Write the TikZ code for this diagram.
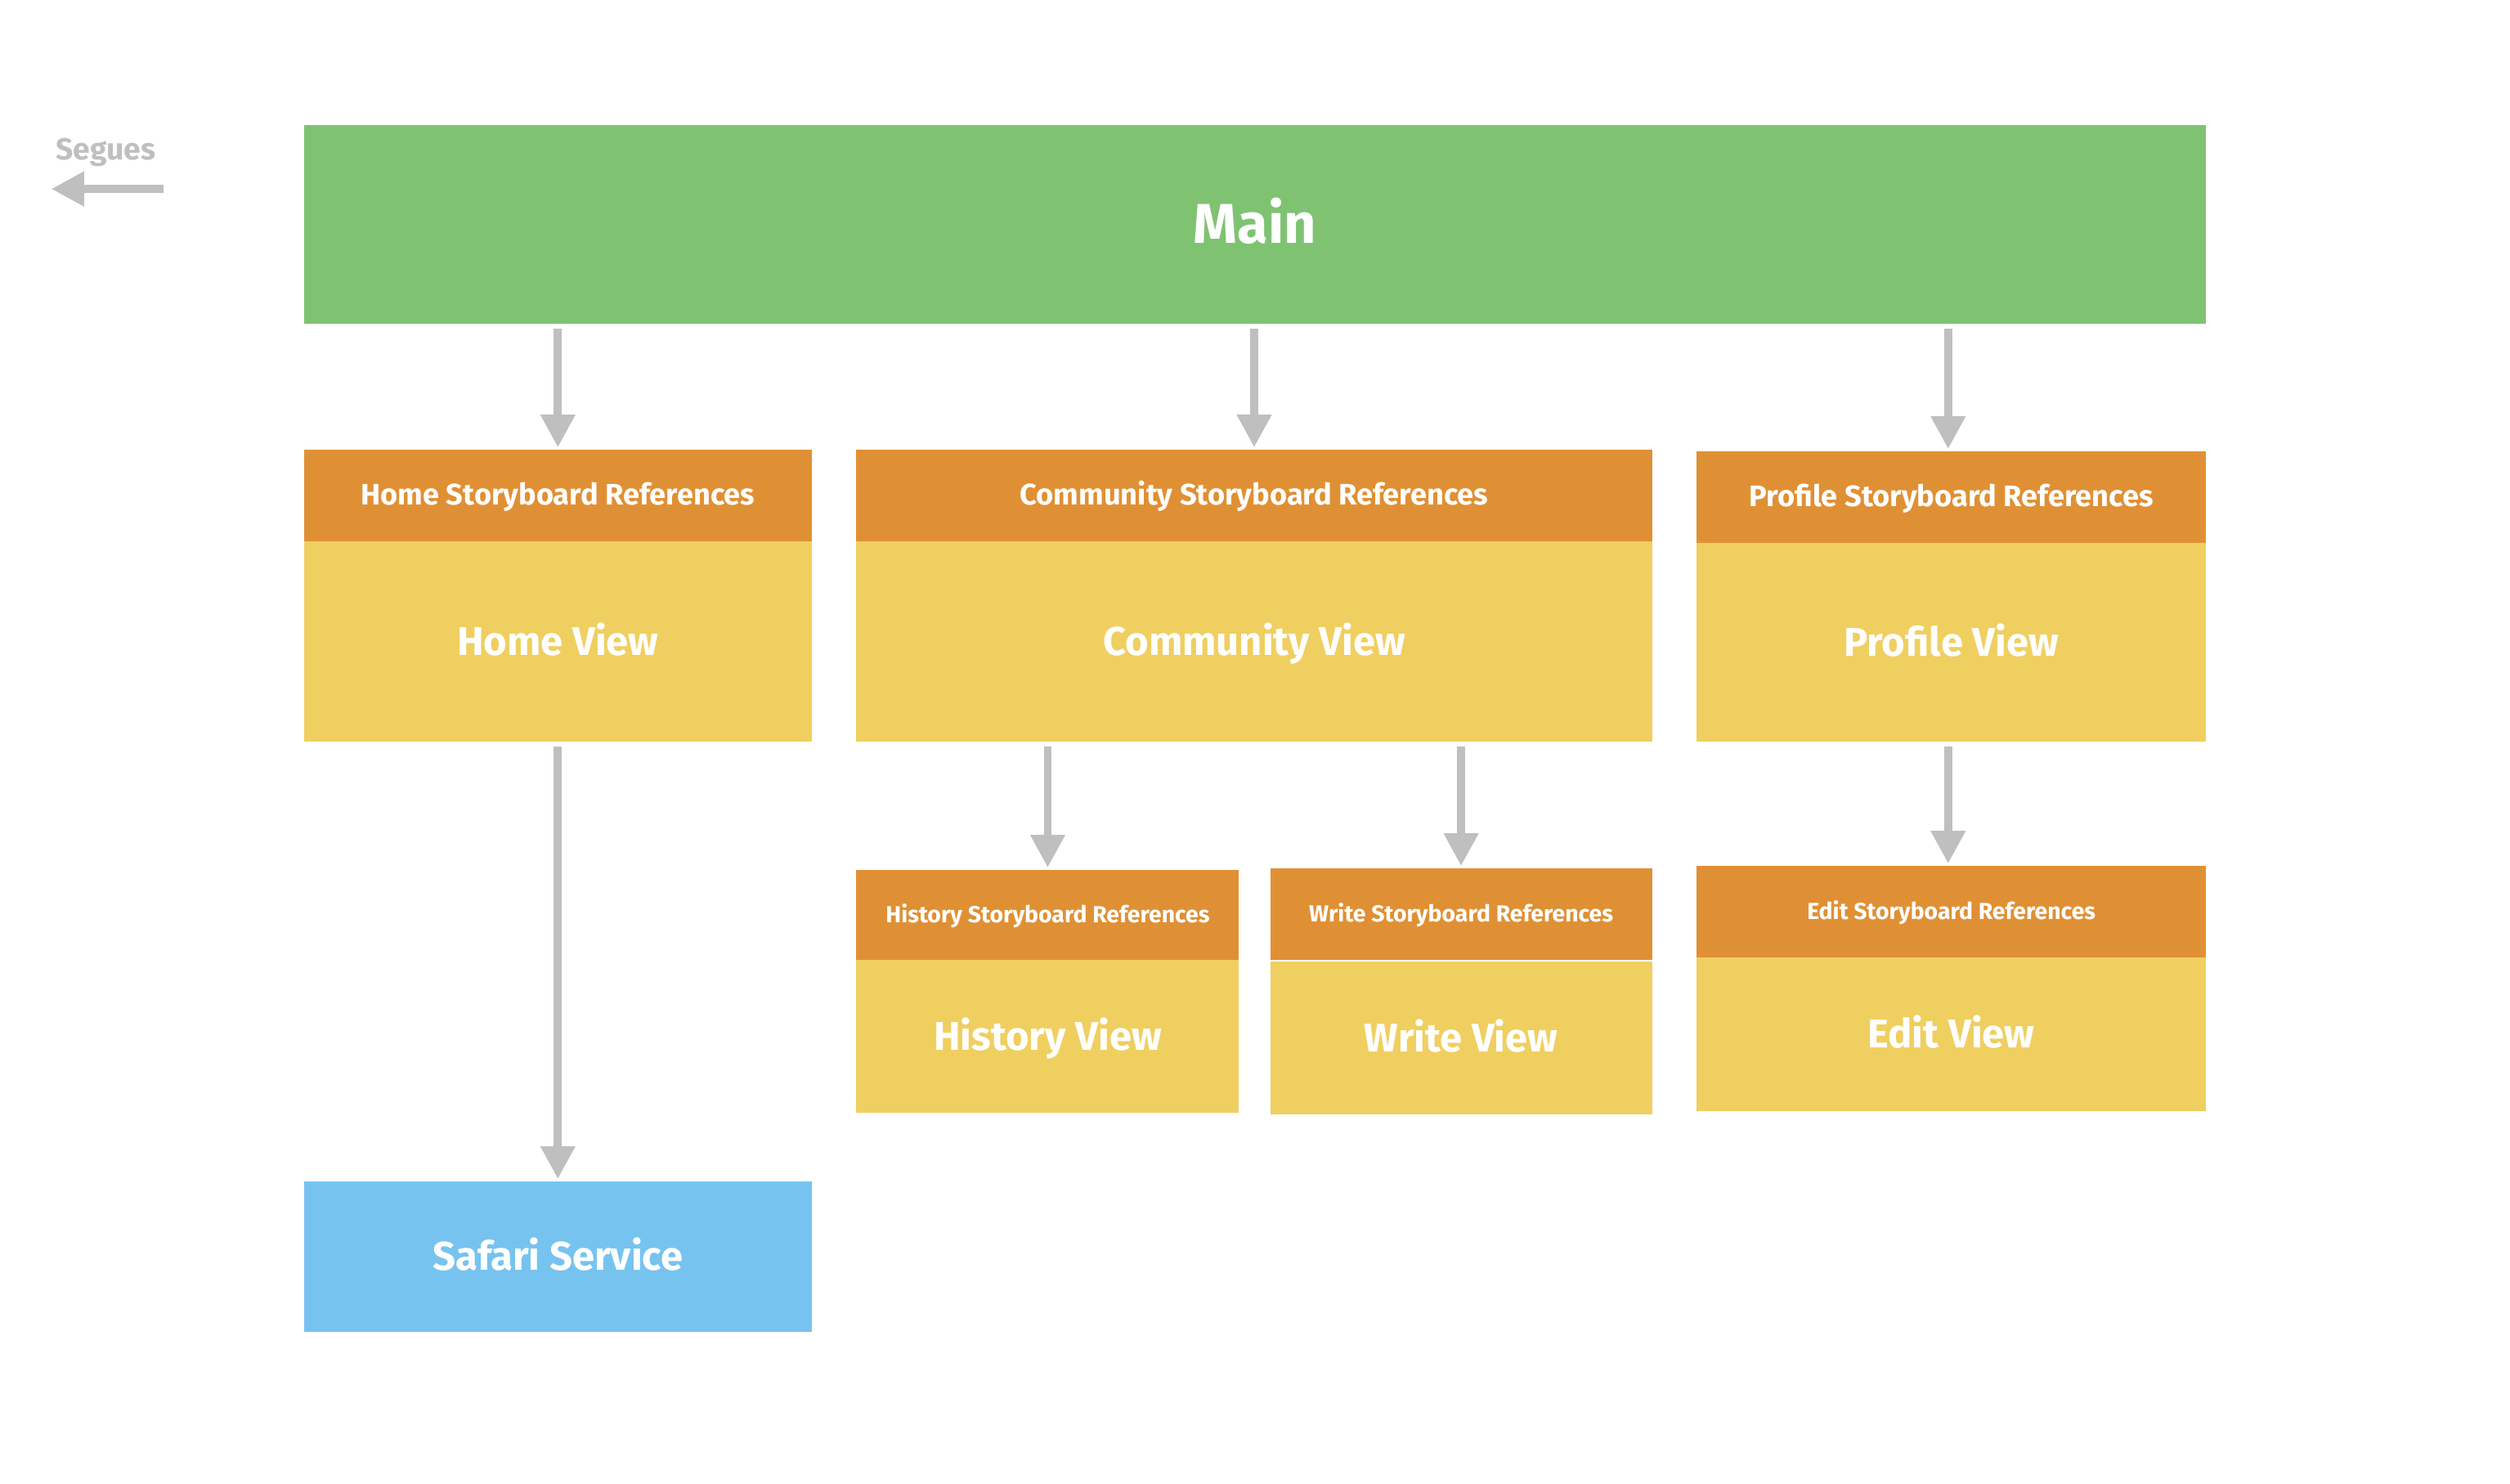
\documentclass[tikz,border=0pt]{standalone}
\usepackage{fontspec}
\setmainfont{Fira Sans}
\usetikzlibrary{arrows.meta}
\definecolor{mainGreen}{HTML}{7FC372}
\definecolor{refOrange}{HTML}{E09034}
\definecolor{viewYellow}{HTML}{F0CF61}
\definecolor{safariBlue}{HTML}{77C3F0}
\definecolor{segueGrey}{HTML}{BFBFBF}

\begin{document}
\begin{tikzpicture}[x=1pt,y=1pt]
\tikzstyle{every node}+=[inner sep=0pt, outer sep=0pt, anchor=north west, text=white]
\tikzstyle{mainbox}=[fill=mainGreen, minimum width=1188pt, minimum height=124pt, text height=24.2pt, text depth=0pt, font=\bfseries\fontsize{35}{42}\selectfont]
\tikzstyle{refbox}=[fill=refOrange, minimum height=57pt, text height=12.8pt, text depth=1.5pt, font=\bfseries\fontsize{18.5}{22}\selectfont]
\tikzstyle{smallref}=[refbox, text height=10pt, text depth=0pt, font=\bfseries\fontsize{14.5}{17}\selectfont]
\tikzstyle{viewbox}=[fill=viewYellow, text height=17.3pt, text depth=0pt, font=\bfseries\fontsize{25}{30}\selectfont]
\tikzstyle{servicebox}=[viewbox, fill=safariBlue]
\tikzstyle{segue}=[draw=segueGrey, line width=5pt, -{Triangle[length=20.5pt,width=20.5pt]}, shorten <=3.5pt, shorten >=1.5pt]
\useasboundingbox (0,0) rectangle (1568,-926.5);
\node[anchor=center, text=segueGrey, font=\bfseries\fontsize{19}{23}\selectfont] (seguelabel) at (66,-95) {Segues};
\coordinate (seguetail) at (102,-118);
\coordinate (seguetip) at (32,-118);
\draw[segue, shorten <=0pt, shorten >=0pt] (seguetail) -- (seguetip);
\node[mainbox] (main) at (190,-78) {Main};
\node[refbox, minimum width=317pt] (homeref) at (190,-281) {Home Storyboard References};
\node[viewbox, minimum width=317pt, minimum height=125pt] (homeview) at (190,-338) {Home View};
\node[refbox, minimum width=497pt] (comref) at (535,-281) {Community Storyboard References};
\node[viewbox, minimum width=497pt, minimum height=125pt] (comview) at (535,-338) {Community View};
\node[refbox, minimum width=318pt] (profref) at (1060,-282) {Profile Storyboard References};
\node[viewbox, minimum width=318pt, minimum height=124pt] (profview) at (1060,-339) {Profile View};
\node[smallref, minimum width=239pt, minimum height=56pt] (histref) at (535,-543.5) {History Storyboard References};
\node[viewbox, minimum width=239pt, minimum height=95.5pt] (histview) at (535,-599.5) {History View};
\node[smallref, minimum width=238.5pt, minimum height=57pt] (writeref) at (793.5,-542.5) {Write Storyboard References};
\node[viewbox, minimum width=238.5pt, minimum height=95.5pt] (writeview) at (793.5,-600.8) {Write View};
\node[smallref, minimum width=318pt, minimum height=57pt] (editref) at (1060,-541) {Edit Storyboard References};
\node[viewbox, minimum width=318pt, minimum height=96pt] (editview) at (1060,-598) {Edit View};
\node[servicebox, minimum width=317pt, minimum height=94pt] (safari) at (190,-738) {Safari Service};
\draw[segue] (main.south -| homeref.north) -- (homeref.north);
\draw[segue] (main.south -| comref.north) -- (comref.north);
\draw[segue] ([xshift=-2pt]main.south -| profref.north) -- ([xshift=-2pt]profref.north);
\draw[segue] (comview.south -| histref.north) -- (histref.north);
\draw[segue] (comview.south -| writeref.north) -- (writeref.north);
\draw[segue] ([xshift=-2pt]profview.south -| editref.north) -- ([xshift=-2pt]editref.north);
\draw[segue] (homeview.south) -- (safari.north);
\end{tikzpicture}
\end{document}
